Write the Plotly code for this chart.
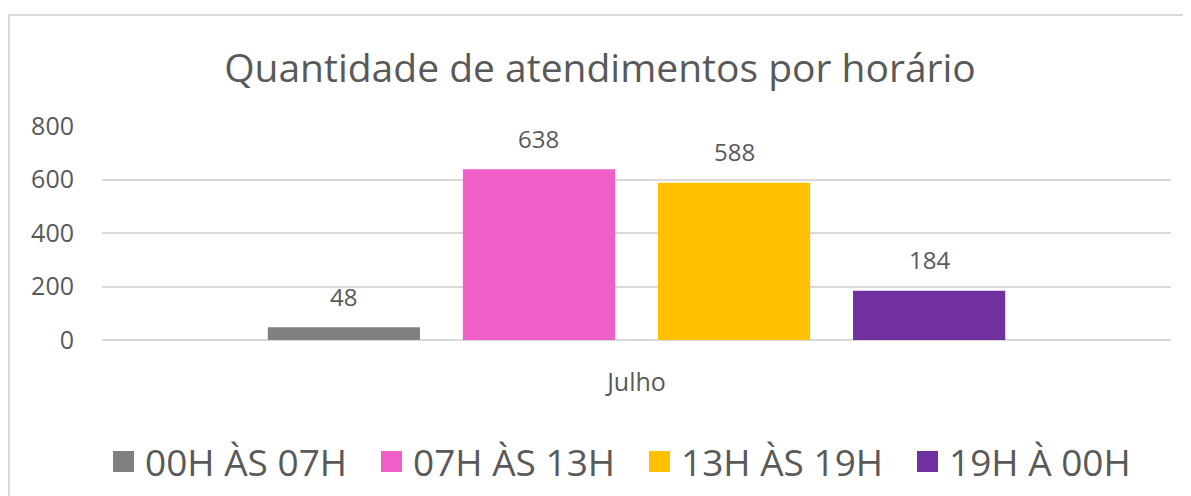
import plotly.graph_objects as go

categories = ["Julho"]
series_names = ["00H ÀS 07H", "07H ÀS 13H", "13H ÀS 19H", "19H À 00H"]
series_values = [[48], [638], [588], [184]]
series_colors = ["#808080", "#F05EC8", "#FFC000", "#7030A0"]
y_ticks = [0, 200, 400, 600, 800]

FONT = "Open Sans"
TEXT = "#595959"
BARGAP = 0.27
N = len(series_names)
OFF = 8  # page body margin offset

W, H = 1191, 496
L, T, R, B = 102 - OFF, 126 - OFF, 1191 - 1171 + OFF, 496 - 340 + OFF
PW, PH = W - L - R, H - T - B

fig = go.Figure()
for i, (name, vals, col) in enumerate(zip(series_names, series_values, series_colors)):
    fig.add_trace(go.Bar(
        x=categories, y=vals, name=name,
        marker=dict(color=col, line=dict(width=0)),
        showlegend=False, legendgroup=name,
    ))
    fig.add_trace(go.Scatter(
        x=[None], y=[None], mode="markers", name=name, legendgroup=name,
        marker=dict(symbol="square", size=23, color=col,
                    line=dict(color=col, width=5)),
    ))
    for ci, v in enumerate(vals):
        fig.add_annotation(
            x=ci + (i - (N - 1) / 2) * (1 - BARGAP) / N, y=v,
            xref="x", yref="y", text=str(v), showarrow=False,
            yshift=31, yanchor="middle",
            font=dict(family=FONT, size=24, color=TEXT),
        )

fig.update_layout(
    width=W, height=H,
    margin=dict(l=L, r=R, t=T, b=B, autoexpand=False),
    paper_bgcolor="white", plot_bgcolor="white",
    barmode="group", bargap=BARGAP, bargroupgap=0.22,
    title=dict(text="Quantidade de atendimentos por horário",
               x=(600 - OFF) / W, xref="container", xanchor="center",
               y=1 - (68 - OFF) / H, yref="container", yanchor="middle",
               font=dict(family=FONT, size=39, color=TEXT)),
    showlegend=True,
    legend=dict(orientation="h", x=(638 - OFF) / W, xref="container", xanchor="center",
                y=1 - (462 - OFF) / H, yref="container", yanchor="middle",
                font=dict(family=FONT, size=37, color=TEXT),
                itemsizing="trace", traceorder="normal", itemwidth=33,
                entrywidth=220, entrywidthmode="pixels",
                bgcolor="rgba(0,0,0,0)"),
    xaxis=dict(showgrid=False, showline=False, ticks="",
               ticklabelstandoff=25,
               tickfont=dict(family=FONT, size=25, color=TEXT)),
    yaxis=dict(range=[0, 800], tickvals=y_ticks,
               showgrid=True, gridcolor="#D9D9D9", gridwidth=2,
               zeroline=True, zerolinecolor="#D9D9D9", zerolinewidth=2,
               showline=False, ticks="", ticklabelstandoff=27,
               tickfont=dict(family=FONT, size=25, color=TEXT)),
    shapes=[dict(type="rect", xref="paper", yref="paper",
                 x0=(1 - L) / PW, x1=1.1,
                 y0=-1.0, y1=(T + PH - 7) / PH,
                 line=dict(color="#D9D9D9", width=2), fillcolor="rgba(0,0,0,0)",
                 layer="below")],
)

fig.write_html("out.html")
